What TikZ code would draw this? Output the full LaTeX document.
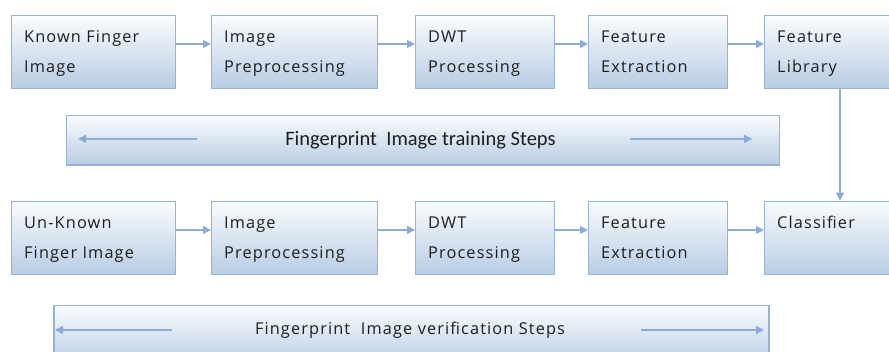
\documentclass[tikz,border=0pt]{standalone}
\usepackage{fontspec}
\setmainfont{Open Sans}
\newfontfamily\boxfont[LetterSpace=7]{Open Sans}
\newfontfamily\calfont{Carlito}
\usetikzlibrary{arrows.meta,calc}
\definecolor{bordc}{RGB}{149,179,215}
\definecolor{arrc}{RGB}{141,172,212}
\definecolor{topc}{RGB}{250,252,254}
\definecolor{botc}{RGB}{184,204,228}
\definecolor{txtc}{RGB}{30,30,30}
\tikzset{
  stepbox/.style={draw=bordc, line width=1.2pt, top color=topc, bottom color=botc,
    minimum height=73.3pt, inner sep=0pt, anchor=north west, rectangle},
  banner/.style={draw=bordc, line width=1.2pt, top color=topc, bottom color=botc,
    inner sep=0pt, anchor=north west, rectangle},
  lbl/.style={anchor=base west, inner sep=0pt, align=left, text=txtc,
    font=\boxfont\fontsize{16.3}{30}\selectfont},
  flow/.style={draw=arrc, line width=1.5pt, -{Triangle[length=8pt,width=8pt]}},
}
\begin{document}
\begin{tikzpicture}[x=1pt,y=-1pt]
\useasboundingbox (0,0) rectangle (889,351);
\fill[white] (0,0) rectangle (889,351);
% top row
\node[stepbox, minimum width=164pt] (a1) at (11,14.7) {};
\node[stepbox, minimum width=166pt] (a2) at (211,14.7) {};
\node[stepbox, minimum width=139pt] (a3) at (415,14.7) {};
\node[stepbox, minimum width=139pt] (a4) at (588,14.7) {};
\node[stepbox, minimum width=127pt] (a5) at (764,14.7) {};
% bottom row
\node[stepbox, minimum width=164pt] (b1) at (11,200.7) {};
\node[stepbox, minimum width=166pt] (b2) at (211,200.7) {};
\node[stepbox, minimum width=139pt] (b3) at (415,200.7) {};
\node[stepbox, minimum width=139pt] (b4) at (588,200.7) {};
\node[stepbox, minimum width=127pt] (b5) at (764,200.7) {};
% banners
\node[banner, minimum width=713.4pt, minimum height=49.6pt] (tr) at (65.6,114.7) {};
\node[banner, minimum width=715pt, minimum height=60pt] (vr) at (53.3,305) {};
% labels (base anchor = last line)
\node[lbl] (ta1) at ([xshift=13pt,yshift=-58pt]a1.north west) {Known Finger\\Image};
\node[lbl] (ta2) at ([xshift=13pt,yshift=-58pt]a2.north west) {Image\\Preprocessing};
\node[lbl] (ta3) at ([xshift=13pt,yshift=-58pt]a3.north west) {DWT\\Processing};
\node[lbl] (ta4) at ([xshift=13pt,yshift=-58pt]a4.north west) {Feature\\Extraction};
\node[lbl] (ta5) at ([xshift=13pt,yshift=-58pt]a5.north west) {Feature\\Library};
\node[lbl] (tb1) at ([xshift=13pt,yshift=-57.5pt]b1.north west) {Un-Known\\Finger Image};
\node[lbl] (tb2) at ([xshift=13pt,yshift=-57.5pt]b2.north west) {Image\\Preprocessing};
\node[lbl] (tb3) at ([xshift=13pt,yshift=-57.5pt]b3.north west) {DWT\\Processing};
\node[lbl] (tb4) at ([xshift=13pt,yshift=-57.5pt]b4.north west) {Feature\\Extraction};
\node[lbl] (tb5) at ([xshift=13pt,yshift=-27.5pt]b5.north west) {Classifier};
\node[anchor=base, inner sep=0pt, text=txtc, font=\calfont\fontsize{20.5}{24}\selectfont] (ttr) at (420.5,145) {Fingerprint\ \ Image training Steps};
\node[anchor=base, inner sep=0pt, text=txtc, font=\boxfont\fontsize{16.3}{20}\selectfont] (tvr) at (410,334) {Fingerprint\ \ Image verification Steps};
% connectors
\foreach \s/\t in {a1/a2,a2/a3,a3/a4,a4/a5,b1/b2,b2/b3,b3/b4,b4/b5}
  \draw[flow] ([yshift=8pt]\s.east) -- ([yshift=8pt]\t.west);
\draw[flow] ([xshift=76pt]a5.south west) -- ([xshift=76pt]b5.north west);
% banner arrows
\coordinate (trl1) at ($(tr.west)+(131.4,-1.2)$);
\coordinate (trl2) at ($(tr.west)+(12.4,-1.2)$);
\coordinate (trr1) at ($(tr.east)+(-150,-1.2)$);
\coordinate (trr2) at ($(tr.east)+(-28,-1.2)$);
\draw[flow] (trl1) -- (trl2);
\draw[flow] (trr1) -- (trr2);
\coordinate (vrl1) at (172,330);
\coordinate (vrl2) at (55,330);
\coordinate (vrr1) at (641,330);
\coordinate (vrr2) at (764,330);
\draw[flow] (vrl1) -- (vrl2);
\draw[flow] (vrr1) -- (vrr2);
\end{tikzpicture}
\end{document}
